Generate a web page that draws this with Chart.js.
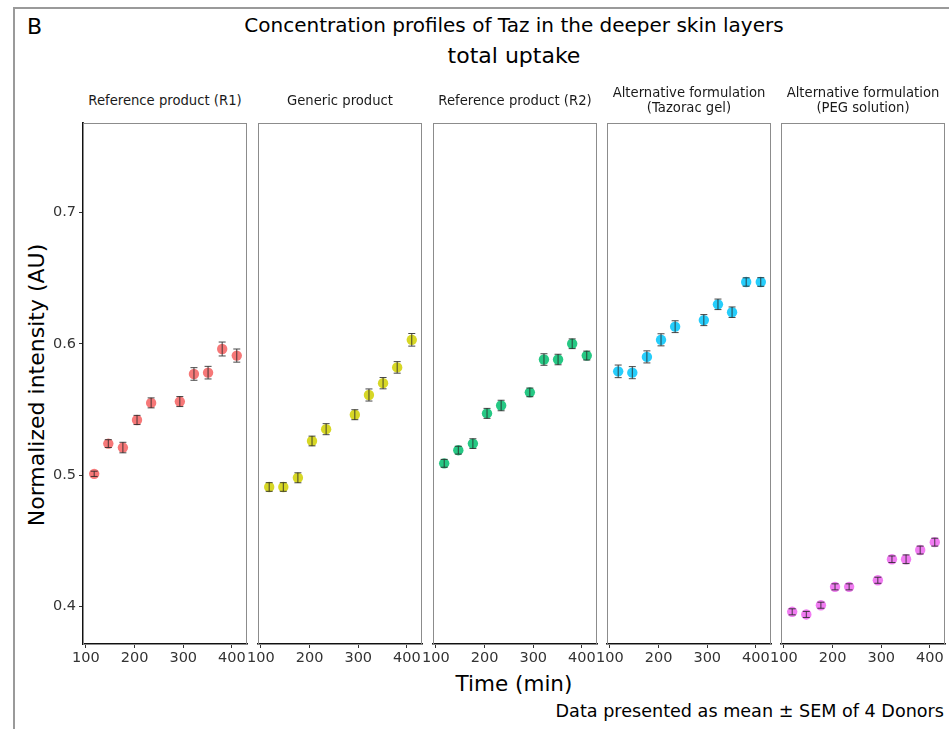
<!DOCTYPE html>
<html>
<head>
<meta charset="utf-8">
<script src="https://cdn.jsdelivr.net/npm/chart.js@4"></script>
<style>
  body { margin: 0; background: #fff; font-family: 'DejaVu Sans', sans-serif; }
  #fig { position: relative; width: 949px; height: 729px; overflow: hidden; }
  .frameTop { position: absolute; left: 14px; top: 7px; width: 940px; height: 2px; background: #9a9a9a; }
  .frameLeft { position: absolute; left: 13px; top: 7px; width: 2px; height: 730px; background: #9a9a9a; }
  .txt { position: absolute; white-space: nowrap; color: #000; }
  .c { transform: translate(-50%, -50%); text-align: center; }
  .strip { font-size: 13.2px; color: #1a1a1a; line-height: 15px; }
  canvas { position: absolute; }
</style>
</head>
<body>
<div id="fig">
  <div class="frameTop"></div>
  <div class="frameLeft"></div>
  <div class="txt" style="left:27px;top:14px;font-size:22px;">B</div>
  <div class="txt c" style="left:514px;top:25px;font-size:20px;">Concentration profiles of Taz in the deeper skin layers</div>
  <div class="txt c" style="left:514px;top:55px;font-size:22px;">total uptake</div>
  <div class="txt c" style="left:36px;top:385px;font-size:22px;transform:translate(-50%,-50%) rotate(-90deg);">Normalized intensity (AU)</div>
  <div class="txt c" style="left:514px;top:683px;font-size:21.5px;">Time (min)</div>
  <div class="txt" style="right:5px;top:701px;font-size:17.6px;">Data presented as mean ± SEM of 4 Donors</div>
  <div id="panels"></div>
</div>
<script>
// time points (min), shared by all panels
const times = [117, 146, 176, 205, 234, 293, 322, 351, 380, 410];
const xTicks = [100, 200, 300, 400];
const yTicks = [0.4, 0.5, 0.6, 0.7];

const panelNames = [
  ['Reference product (R1)'],
  ['Generic product'],
  ['Reference product (R2)'],
  ['Alternative formulation', '(Tazorac gel)'],
  ['Alternative formulation', '(PEG solution)']
];

// means per panel
const r1Mean = [0.501, 0.524, 0.521, 0.542, 0.555, 0.556, 0.577, 0.578, 0.596, 0.591];
const genMean = [0.491, 0.491, 0.498, 0.526, 0.535, 0.546, 0.561, 0.570, 0.582, 0.603];
const r2Mean = [0.509, 0.519, 0.524, 0.547, 0.553, 0.563, 0.588, 0.588, 0.600, 0.591];
const tazMean = [0.579, 0.578, 0.590, 0.603, 0.613, 0.618, 0.630, 0.624, 0.647, 0.647];
const pegMean = [0.396, 0.394, 0.401, 0.415, 0.415, 0.420, 0.436, 0.436, 0.443, 0.449];

// SEM per panel
const r1Sem = [0.002, 0.003, 0.004, 0.0035, 0.0038, 0.0038, 0.0048, 0.0048, 0.0053, 0.005];
const genSem = [0.0033, 0.0033, 0.0038, 0.0037, 0.0042, 0.0038, 0.0046, 0.0043, 0.0044, 0.0048];
const r2Sem = [0.003, 0.003, 0.0037, 0.0038, 0.004, 0.0033, 0.0044, 0.004, 0.0037, 0.0034];
const tazSem = [0.0048, 0.0046, 0.0046, 0.0046, 0.0045, 0.0042, 0.004, 0.004, 0.0032, 0.0033];
const pegSem = [0.0023, 0.0023, 0.0023, 0.0023, 0.0023, 0.0023, 0.0025, 0.0033, 0.003, 0.003];

const means = [r1Mean, genMean, r2Mean, tazMean, pegMean];
const sems = [r1Sem, genSem, r2Sem, tazSem, pegSem];
const colors = [
  'rgba(244, 96, 96, 0.85)',
  'rgba(208, 208, 0, 0.85)',
  'rgba(0, 190, 110, 0.85)',
  'rgba(0, 196, 250, 0.85)',
  'rgba(238, 100, 240, 0.85)'
];

const panelLefts = [83, 258, 433, 607, 781];
const panelW = 164;
const panelTop = 123;
const panelH = 521;
const yAxisW = 70;
const padL = 20;
const padT = 14;
const xAxisH = 30;

// error bars + panel frame, drawn from the chart's own scales
const errorBars = {
  id: 'errorBars',
  beforeDatasetsDraw(chart) {
    const a = chart.chartArea;
    const ctx = chart.ctx;
    ctx.save();
    ctx.strokeStyle = '#8c8c8c';
    ctx.lineWidth = 1;
    ctx.strokeRect(a.left + 0.5, a.top + 0.5, a.right - a.left - 1, a.bottom - a.top);
    ctx.restore();
  },
  afterDatasetsDraw(chart, args, opts) {
    const ctx = chart.ctx;
    const xs = chart.scales.x, ys = chart.scales.y;
    ctx.save();
    ctx.strokeStyle = 'rgba(40, 40, 40, 0.85)';
    ctx.lineWidth = 1;
    opts.mean.forEach((m, i) => {
      const x = xs.getPixelForValue(times[i]);
      const y1 = ys.getPixelForValue(m - opts.sem[i]);
      const y2 = ys.getPixelForValue(m + opts.sem[i]);
      ctx.beginPath();
      ctx.moveTo(x, y1); ctx.lineTo(x, y2);
      ctx.moveTo(x - 3.5, y1); ctx.lineTo(x + 3.5, y1);
      ctx.moveTo(x - 3.5, y2); ctx.lineTo(x + 3.5, y2);
      ctx.stroke();
    });
    ctx.restore();
  }
};

const holder = document.getElementById('panels');
const fig = document.getElementById('fig');

means.forEach((mean, p) => {
  const first = p === 0;
  const leftPad = first ? yAxisW : padL;
  const cv = document.createElement('canvas');
  const w = leftPad + panelW + 12;
  const h = padT + panelH + xAxisH;
  cv.width = w; cv.height = h;
  cv.style.left = (panelLefts[p] - leftPad) + 'px';
  cv.style.top = (panelTop - padT) + 'px';
  cv.style.width = w + 'px';
  cv.style.height = h + 'px';
  holder.appendChild(cv);

  // strip label
  const lab = document.createElement('div');
  lab.className = 'txt c strip';
  lab.style.left = (panelLefts[p] + panelW / 2) + 'px';
  lab.style.top = '100px';
  lab.innerHTML = panelNames[p].join('<br>');
  fig.appendChild(lab);

  new Chart(cv, {
    type: 'scatter',
    data: {
      datasets: [{
        data: mean.map((v, i) => ({ x: times[i], y: v })),
        backgroundColor: colors[p],
        borderColor: 'rgba(255,255,255,0)',
        pointRadius: 5.2,
        pointHoverRadius: 5.2,
        borderWidth: 0
      }]
    },
    options: {
      responsive: false,
      animation: false,
      events: [],
      layout: { padding: { left: first ? 0 : padL, right: 12, top: padT, bottom: 0 } },
      plugins: {
        legend: { display: false },
        tooltip: { enabled: false },
        errorBars: { mean: mean, sem: sems[p] }
      },
      scales: {
        x: {
          type: 'linear',
          min: 94,
          max: 431,
          afterBuildTicks: s => { s.ticks = xTicks.map(v => ({ value: v })); },
          afterFit: s => { s.height = xAxisH; },
          border: { display: true, color: '#111', width: 1.4 },
          grid: { drawOnChartArea: false, color: '#333', tickLength: 4 },
          ticks: { color: '#333', font: { family: 'DejaVu Sans', size: 14.5 }, padding: 2, maxRotation: 0 }
        },
        y: {
          type: 'linear',
          display: first,
          min: 0.3715,
          max: 0.768,
          afterBuildTicks: s => { s.ticks = yTicks.map(v => ({ value: v })); },
          afterFit: s => { s.width = first ? yAxisW : 0; },
          border: { display: true, color: '#111', width: 1.8 },
          grid: { drawOnChartArea: false, color: '#333', tickLength: 4 },
          ticks: { color: '#333', font: { family: 'DejaVu Sans', size: 14.5 }, padding: 3,
                   callback: v => v.toFixed(1) }
        }
      }
    },
    plugins: [errorBars]
  });
});
</script>
</body>
</html>
